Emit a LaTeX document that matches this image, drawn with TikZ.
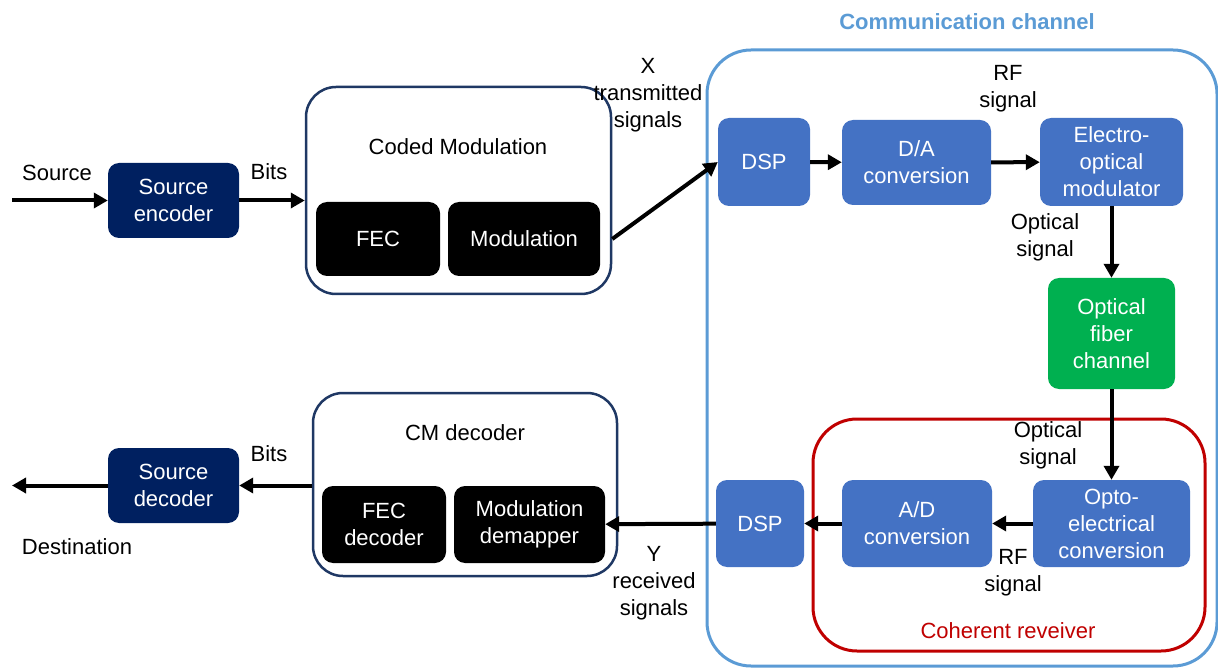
\documentclass[tikz,border=0pt]{standalone}
\usepackage{fontspec}
\setmainfont{Liberation Sans}
\usetikzlibrary{arrows.meta}
\usetikzlibrary{positioning}
\definecolor{navyblk}{RGB}{0,32,96}
\definecolor{cmframe}{RGB}{31,56,100}
\definecolor{dspblue}{RGB}{68,114,196}
\definecolor{chanblue}{RGB}{91,155,213}
\definecolor{fibergreen}{RGB}{0,176,80}
\definecolor{cohred}{RGB}{192,0,0}

\begin{document}
\begin{tikzpicture}[x=1pt,y=1pt,yscale=-1,
  every node/.style={font=\fontsize{22}{27}\selectfont, inner sep=0pt, align=center},
  blk/.style={rounded corners=11pt, text=white},
  frame/.style={rounded corners=#1, fill=white},
  flow/.style={line width=4pt, -{Triangle[length=14pt,width=15pt]}}]
  \useasboundingbox (0,0) rectangle (1218,668);
  % outer frames
  \node (chan) at (962,358) [frame=44pt, draw=chanblue, line width=3pt, minimum width=510pt, minimum height=616pt] {};
  \node (coh) at (1009,535) [frame=44pt, draw=cohred, line width=3pt, minimum width=392pt, minimum height=232pt] {};
  \node (cm) at (458.5,190.5) [frame=30pt, draw=cmframe, line width=2.5pt, minimum width=305pt, minimum height=207pt] {};
  \node (cmdec) at (465,484.5) [frame=30pt, draw=cmframe, line width=2.5pt, minimum width=304pt, minimum height=183pt] {};

  % Blocks
  \node (srcenc) at (173.5,200.5) [blk, fill=navyblk, minimum width=131pt, minimum height=75pt] {Source\\encoder};
  \node (fec) at (378,239) [blk, fill=black, minimum width=124pt, minimum height=74pt] {FEC};
  \node (mod) at (524,239) [blk, fill=black, minimum width=152pt, minimum height=74pt] {Modulation};
  \node (dsptx) at (764,162) [blk, fill=dspblue, minimum width=92pt, minimum height=88pt] {DSP};
  \node (da) at (916.5,162.5) [blk, fill=dspblue, minimum width=149pt, minimum height=85pt] {D/A\\conversion};
  \node (eom) at (1111.5,162) [blk, fill=dspblue, minimum width=143pt, minimum height=88pt] {Electro-\\optical\\modulator};
  \node (fiber) at (1111.5,333.5) [blk, fill=fibergreen, minimum width=127pt, minimum height=111pt] {Optical\\fiber\\channel};
  \node (oe) at (1111.5,523.5) [blk, fill=dspblue, minimum width=157pt, minimum height=87pt] {Opto-\\electrical\\conversion};
  \node (ad) at (917,523.5) [blk, fill=dspblue, minimum width=150pt, minimum height=87pt] {A/D\\conversion};
  \node (dsprx) at (760,523.5) [blk, fill=dspblue, minimum width=88pt, minimum height=87pt] {DSP};
  \node (fecdec) at (384,524.5) [blk, fill=black, minimum width=124pt, minimum height=77pt] {FEC\\decoder};
  \node (demap) at (529.5,524.5) [blk, fill=black, minimum width=151pt, minimum height=77pt] {Modulation\\demapper};
  \node (srcdec) at (173.5,485.5) [blk, fill=navyblk, minimum width=131pt, minimum height=75pt] {Source\\decoder};

  % Text Node
  \node (cmtitle) at (458,147) {Coded Modulation};
  \node (dectitle) at (465,433) {CM decoder};
  \node (chantitle) at (967,22) [text=chanblue, font=\fontsize{22}{27}\selectfont\bfseries] {Communication channel};
  \node (cohtitle) at (1008,631) [text=cohred] {Coherent reveiver};
  \node (srclbl) at (57,173) {Source};
  \node (bitstx) at (269,172) {Bits};
  \node (xlbl) at (648,95) {X\\transmitted\\signals};
  \node (rftx) at (1008,89) {RF\\signal};
  \node (opttx) at (1045,237) {Optical\\signal};
  \node (optrx) at (1048,445) {Optical\\signal};
  \node (rfrx) at (1013,573) {RF\\signal};
  \node (ylbl) at (654,583) {Y\\received\\signals};
  \node (bitsrx) at (269,454) {Bits};
  \node (dstlbl) at (77,547) {Destination};

  % free ends
  \coordinate (src) at (12,200.5);
  \coordinate (dst) at (12,485.5);

  % Straight Lines
  \draw [flow] (src) -- (srcenc);
  \draw [flow] (srcenc) -- (srcenc -| cm.west);
  \draw [flow] (mod -| cm.east) -- (dsptx.west);
  \draw [flow] (dsptx) -- (da);
  \draw [flow] (da) -- (eom);
  \draw [flow] (eom) -- (fiber);
  \draw [flow] (fiber) -- (oe);
  \draw [flow] (oe) -- (ad);
  \draw [flow] (ad) -- (dsprx);
  \draw [flow] (dsprx) -- (demap);
  \draw [flow] (srcdec -| cmdec.west) -- (srcdec);
  \draw [flow] (srcdec) -- (dst);
\end{tikzpicture}
\end{document}
